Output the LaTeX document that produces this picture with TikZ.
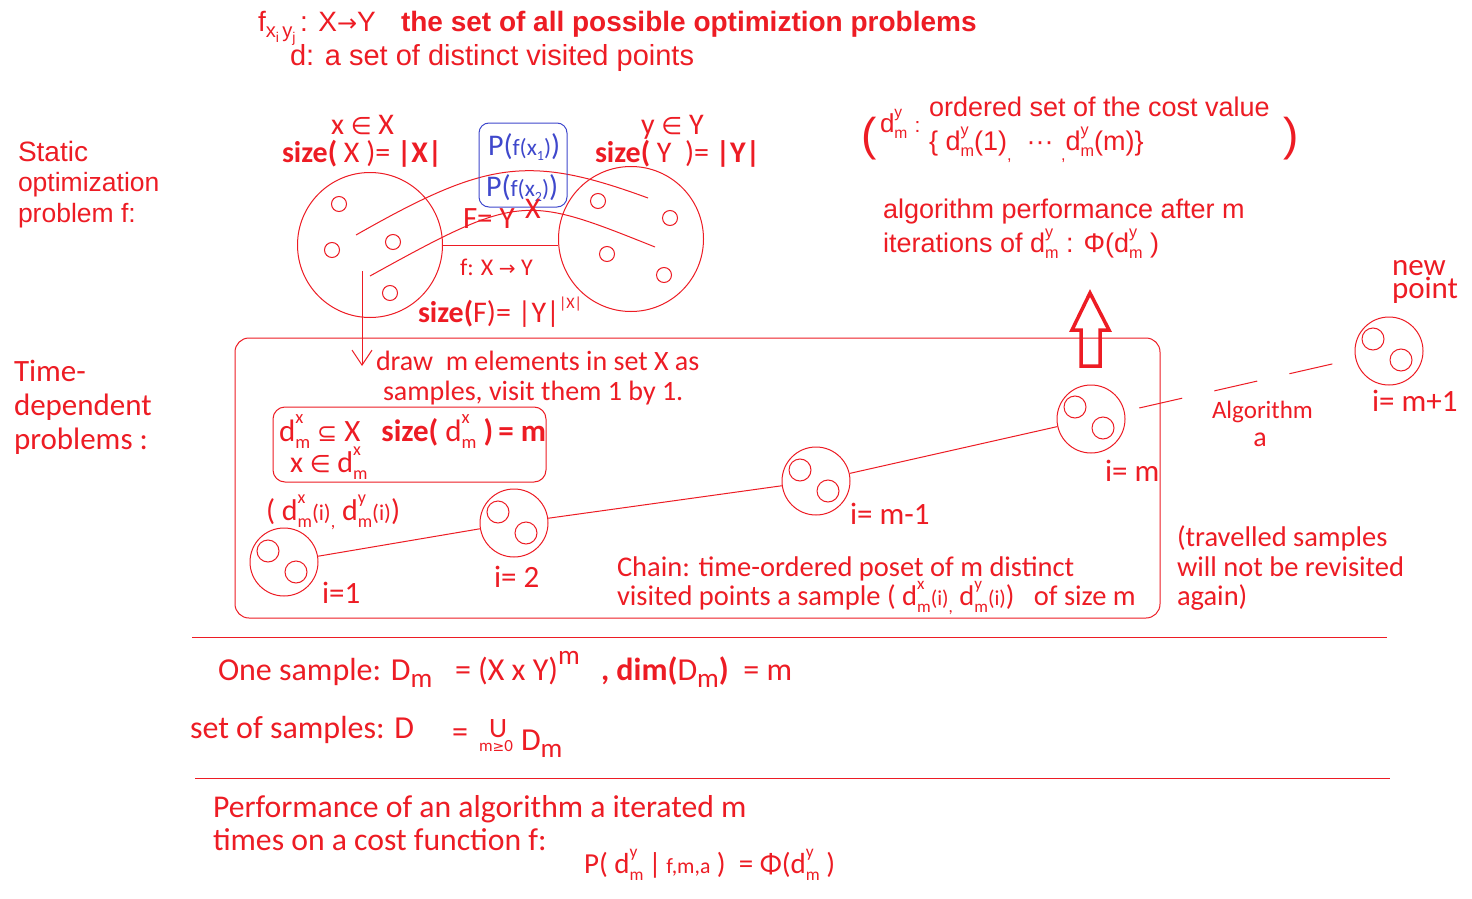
\documentclass[tikz,border=0pt]{standalone}
\usepackage{fontspec}
\setmainfont{Liberation Sans}
\newfontfamily\calib{Carlito}
\newfontfamily\symf{DejaVu Sans}
\usetikzlibrary{arrows.meta}
\definecolor{pred}{RGB}{237,28,36}
\definecolor{pblue}{RGB}{63,72,204}
\makeatletter
\newcommand\shr[2][0.6]{{\fontsize{\fpeval{#1*\f@size}pt}{\fpeval{#1*\f@size}pt}\selectfont #2}}
\makeatother
\newcommand\up[2][0.5]{\raisebox{#1em}{\shr{#2}}}
\newcommand\dn[2][-0.25]{\raisebox{#1em}{\shr{#2}}}
\newcommand\dd[2]{d\rlap{\up[0.55]{#1}}\dn{#2}}
\newcommand\fs[1]{\fontsize{#1}{#1}\selectfont}
\tikzset{
  txt/.style={inner sep=0pt, outer sep=0pt, anchor=base west, text=pred},
  ctxt/.style={inner sep=0pt, outer sep=0pt, anchor=base, text=pred},
  bigc/.style={circle, draw=pred, line width=1pt, minimum size=68pt, inner sep=0pt},
  smlc/.style={circle, draw=pred, line width=1pt, minimum size=22pt, inner sep=0pt},
  setc/.style={circle, draw=pred, line width=1pt, minimum size=145pt, inner sep=0pt},
  dotc/.style={circle, draw=pred, line width=1pt, minimum size=15pt, inner sep=0pt},
  ln/.style={draw=pred, line width=1pt},
}
\begin{document}
\begin{tikzpicture}[x=1pt, y=-1pt]
\useasboundingbox (0,0) rectangle (1472,899);
\fill[white] (0,0) rectangle (1472,899);

% ---------- top lines
\node[txt, font=\fs{28}] (t1) at (258,32) {f\raisebox{-0.2em}{\shr[0.72]{x\raisebox{-0.25em}{\shr[0.7]{i}}\,y\raisebox{-0.25em}{\shr[0.7]{j}}}}\,: X{\symf\fs{24}→}Y};
\node[txt, font=\fs{28}\bfseries] (t2) at (401,32) {the set of all possible optimiztion problems};
\node[txt, font=\fs{29}] (t3) at (290,66) {d: a set of distinct visited points};

% ---------- left labels
\node[txt, font=\fs{28}] (s1) at (18,161) {Static};
\node[txt, font=\fs{26.5}] (s2) at (18,191) {optimization};
\node[txt, font=\fs{26.5}] (s3) at (18,222) {problem f:};
\node[txt, font=\calib\fs{31}] (td1) at (14,381) {Time-};
\node[txt, font=\calib\fs{31}] (td2) at (14,415) {dependent};
\node[txt, font=\calib\fs{31}] (td3) at (14,449) {problems :};

% ---------- sets X and Y
\node[setc] (X) at (370,245) {};
\node[setc] (Y) at (631,239) {};
\node[dotc] (x1) at (339,204) {};
\node[dotc] (x2) at (332,250) {};
\node[dotc] (x3) at (393,242) {};
\node[dotc] (x4) at (390,293) {};
\node[dotc] (y1) at (598,201) {};
\node[dotc] (y2) at (670,218) {};
\node[dotc] (y3) at (607,254) {};
\node[dotc] (y4) at (664,275) {};
\draw[ln] (X.east) -- (X.east -| Y.west);
\coordinate (ca0) at (356,235);
\coordinate (ca1) at (486,161);
\coordinate (ca2) at (528,154);
\coordinate (ca3) at (648,198);
\draw[ln] (ca0) .. controls (ca1) and (ca2) .. (ca3);
\coordinate (cb0) at (370,276);
\coordinate (cb1) at (520,193);
\coordinate (cb2) at (525,195);
\coordinate (cb3) at (655,247);
\draw[ln] (cb0) .. controls (cb1) and (cb2) .. (cb3);

\node[txt, font=\calib\fs{30}] (xin) at (331,134) {x {\symf\fs{24}∈} X};
\node[txt, font=\calib\fs{30}] (xsz) at (282,162) {\textbf{size(} X )= \textbf{|X|}};
\node[txt, font=\calib\fs{30}] (yin) at (641,134) {y {\symf\fs{24}∈} Y};
\node[txt, font=\calib\fs{30}] (ysz) at (595,162) {\textbf{size(} Y \ )= \textbf{|Y|}};

\node[draw=pblue, line width=1pt, rounded corners=10pt, minimum width=88pt, minimum height=84pt, inner sep=0pt] (pbox) at (523,165) {};
\node[txt, text=pblue, font=\calib\fs{30}] (p1t) at (488,155) {P(\shr[0.78]{f(x\dn{1})})};
\node[txt, text=pblue, font=\calib\fs{30}] (p2t) at (486,196) {P(\shr[0.78]{f(x\dn{2})})};

\node[txt, font=\calib\fs{31}] (FY) at (463,228) {F= Y};
\node[txt, font=\calib\fs{30}] (FX) at (525,218) {X};
\node[txt, font=\calib\fs{24}] (fxy) at (460,275) {f: X {\symf\fs{20}→} Y};
\node[txt, font=\calib\fs{30}] (szF) at (418,322) {\textbf{size(}F)= |Y|};
\node[txt, font=\calib\fs{16}] (szFx) at (559,308) {|X|};

% ---------- arrow down
\coordinate (arS) at (362,271);
\coordinate (arE) at (362,366);
\draw[ln, -{Straight Barb[length=15pt,width=20pt,line width=1pt]}] (arS) -- (arE);

% ---------- chain box
\node[draw=pred, line width=1pt, rounded corners=14pt, minimum width=925pt, minimum height=280pt, inner sep=0pt] (chainbox) at (697.5,478) {};
\node[txt, font=\calib\fs{28}] (dr1) at (376,370) {draw \ m elements in set X as};
\node[txt, font=\calib\fs{28}] (dr2) at (383,400) {samples, visit them 1 by 1.};

\node[draw=pred, line width=1pt, rounded corners=12pt, minimum width=273pt, minimum height=75pt, inner sep=0pt] (dbox) at (409.5,444.5) {};
\node[txt, font=\calib\fs{31}] (db1) at (279,441) {\dd{x}{m} {\symf\fs{24}⊆} X \ \ \textbf{size(} \dd{x}{m} \textbf{)\,= m}};
\node[txt, font=\calib\fs{30}] (db2) at (290,472) {x {\symf\fs{24}∈} \dd{x}{m}};

\node[txt, font=\calib\fs{30}] (pair) at (266,520) {( \dd{x}{m}\shr[0.75]{(i)}\dn{,} \dd{y}{m}\shr[0.75]{(i)})};

% chain points
\node[bigc] (q1) at (284,562) {};
\node[smlc] (q1a) at (268,551) {};
\node[smlc] (q1b) at (296,572) {};
\node[bigc] (q2) at (514,523) {};
\node[smlc] (q2a) at (498,512) {};
\node[smlc] (q2b) at (526,533) {};
\node[bigc] (q3) at (816,481) {};
\node[smlc] (q3a) at (800,470) {};
\node[smlc] (q3b) at (828,491) {};
\node[bigc] (q4) at (1091,419) {};
\node[smlc] (q4a) at (1075,407) {};
\node[smlc] (q4b) at (1103,428) {};
\node[bigc] (q5) at (1389,351) {};
\node[smlc] (q5a) at (1373,339) {};
\node[smlc] (q5b) at (1401,360) {};
\draw[ln] (q1) -- (q2);
\draw[ln] (q2) -- (q3);
\draw[ln] (q3) -- (q4);
\draw[ln, dash pattern=on 44pt off 33pt, dash phase=62pt] (q4) -- (q5);

\node[txt, font=\calib\fs{31}] (l1) at (322,603) {i=1};
\node[txt, font=\calib\fs{31}] (l2) at (494,587) {i= 2};
\node[txt, font=\calib\fs{31}] (l3) at (850,524) {i= m-1};
\node[txt, font=\calib\fs{31}] (l4) at (1105,481) {i= m};
\node[txt, font=\calib\fs{31}] (l5) at (1372,411) {i= m+1};
\node[txt, font=\calib\fs{31}] (np1) at (1392,275) {new};
\node[txt, font=\calib\fs{31}] (np2) at (1392,298) {point};
\node[txt, font=\calib\fs{25}] (alg1) at (1212,418) {Algorithm};
\node[ctxt, font=\calib\fs{28}] (alg2) at (1260,446) {a};

\node[txt, font=\calib\fs{28.5}] (ch1) at (617,576) {Chain: time-ordered poset of m distinct};
\node[txt, font=\calib\fs{28.5}] (ch2) at (617,605) {visited points a sample ( \dd{x}{m}\shr[0.75]{(i)}\dn{,} \dd{y}{m}\shr[0.75]{(i)}) \ \ of size m};

\node[txt, font=\calib\fs{28.5}] (tr1) at (1177,546) {(travelled samples};
\node[txt, font=\calib\fs{28.5}] (tr2) at (1177,576) {will not be revisited};
\node[txt, font=\calib\fs{28.5}] (tr3) at (1177,605) {again)};

% hollow arrow up
\draw[draw=pred, line width=3.5pt, line join=miter] (1081,366) -- (1081,330) -- (1072,330) -- (1090,293) -- (1109,330) -- (1100,330) -- (1100,366) -- cycle;

% ---------- top right
\node[txt, font=\fs{46}] (lpar) at (861,150) {(};
\node[txt, font=\fs{46}] (rpar) at (1283,150) {)};
\node[txt, font=\fs{26}] (dy) at (880,132) {\dd{y}{m} \shr[0.8]{:}};
\node[txt, font=\fs{27}] (os1) at (929,116) {ordered set of the cost value};
\node[txt, font=\fs{27}] (os2) at (929,150) {\{ \dd{y}{m}(1)\dn[-0.4]{,} \ ··· \dn[-0.4]{,}\dd{y}{m}(m)\}};
\node[txt, font=\fs{27}] (ap1) at (883,218) {algorithm performance after m};
\node[txt, font=\fs{27}] (ap2) at (883,252) {iterations of \dd{y}{m} : Φ(\dd{y}{m} )};

% ---------- separators
\coordinate (sepA1) at (192,637);
\coordinate (sepA2) at (1387,637);
\coordinate (sepB1) at (195,778);
\coordinate (sepB2) at (1390,778);
\draw[ln] (sepA1) -- (sepA2);
\draw[ln] (sepB1) -- (sepB2);

% ---------- bottom formulas
\node[txt, font=\calib\fs{32}] (os) at (218,680) {One sample: D\raisebox{-0.22em}{\shr[0.85]{m}}};
\node[txt, font=\calib\fs{32}] (oseq) at (455,680) {= (X x Y)\raisebox{0.5em}{\shr[0.85]{m}}};
\node[txt, font=\calib\fs{32}] (osdim) at (601,680) {\textbf{, dim(}D\raisebox{-0.22em}{\shr[0.85]{m}}\textbf{)} \ = m};

\node[txt, font=\calib\fs{32}] (ss) at (190,738) {set of samples: D};
\node[txt, font=\calib\fs{32}] (sseq) at (452,742) {=};
\node[txt, font=\calib\fs{28}] (ssU) at (489,737) {U};
\node[txt, font=\calib\fs{17}] (ssm) at (479,751) {m{\symf\fs{14}≥}0};
\node[txt, font=\calib\fs{32}] (ssD) at (521,750) {D\raisebox{-0.22em}{\shr[0.85]{m}}};

\node[txt, font=\calib\fs{31.7}] (pf1) at (213,817) {Performance of an algorithm a iterated m};
\node[txt, font=\calib\fs{31.7}] (pf2) at (213,850) {times on a cost function f:};
\node[txt, font=\calib\fs{29}] (pf3) at (584,873) {P( \dd{y}{m}\,|\,\shr[0.75]{f,m,a} ) \ = Φ(\dd{y}{m} )};
\end{tikzpicture}
\end{document}
